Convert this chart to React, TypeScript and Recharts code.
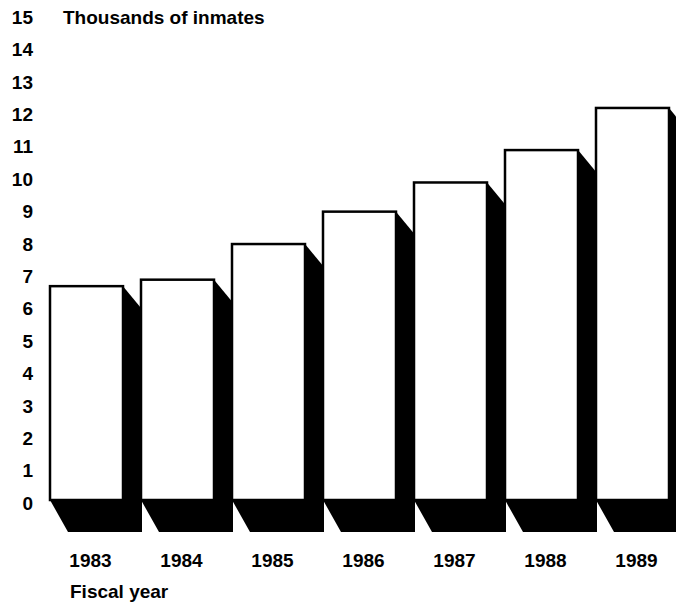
import React from "react";
import { BarChart, Bar, XAxis, YAxis, Customized } from "recharts";

const years = ["1983", "1984", "1985", "1986", "1987", "1988", "1989"];
const inmates = [6.6, 6.8, 7.9, 8.9, 9.8, 10.8, 12.1];
const yTicks = [0, 1, 2, 3, 4, 5, 6, 7, 8, 9, 10, 11, 12, 13, 14, 15];

const data = years.map((year, i) => ({ year, value: inmates[i] }));

const FONT = "'Liberation Sans', Arial, Helvetica, sans-serif";
const FS = 19;

const ShadowBar = (props: any) => {
  const { x, y, width, height } = props;
  const y0 = y + height;
  const pts = [
    [x + width, y],
    [x + width + 19, y + 23],
    [x + width + 19, y0 + 32],
    [x + 18, y0 + 32],
    [x, y0],
  ]
    .map((p) => p.join(","))
    .join(" ");
  return (
    <g>
      <polygon points={pts} fill="#000" />
      <rect x={x} y={y} width={width} height={height} fill="#fff" stroke="#000" strokeWidth={2.5} />
    </g>
  );
};

const YTick = (props: any) => {
  const { y, payload } = props;
  return (
    <text x={33} y={y + 9.8} textAnchor="end" fontFamily={FONT} fontWeight="bold" fontSize={FS} fill="#000">
      {payload.value}
    </text>
  );
};

const XTick = (props: any) => {
  const { x, payload } = props;
  return (
    <text x={x + 4} y={566.8} textAnchor="middle" fontFamily={FONT} fontWeight="bold" fontSize={FS} fill="#000">
      {payload.value}
    </text>
  );
};

const Labels = () => (
  <g>
    <text x={63} y={23.8} fontFamily={FONT} fontWeight="bold" fontSize={FS} fill="#000">
      Thousands of inmates
    </text>
    <text x={70} y={597.5} fontFamily={FONT} fontWeight="bold" fontSize={FS} fill="#000">
      Fiscal year
    </text>
  </g>
);

export default function App() {
  return (
    <div style={{ position: "absolute", left: 0, top: 0, width: 676, height: 602, overflow: "hidden", background: "#fff" }}>
      <BarChart width={678} height={602} data={data} margin={{ top: 14, right: 0, bottom: 0, left: 0 }}>
        <XAxis dataKey="year" height={102} axisLine={false} tickLine={false} tick={<XTick />} interval={0} />
        <YAxis width={41} domain={[0, 15]} ticks={yTicks} axisLine={false} tickLine={false} tick={<YTick />} interval={0} />
        <Bar dataKey="value" barSize={73} shape={<ShadowBar />} isAnimationActive={false} />
        <Customized component={Labels} />
      </BarChart>
    </div>
  );
}
